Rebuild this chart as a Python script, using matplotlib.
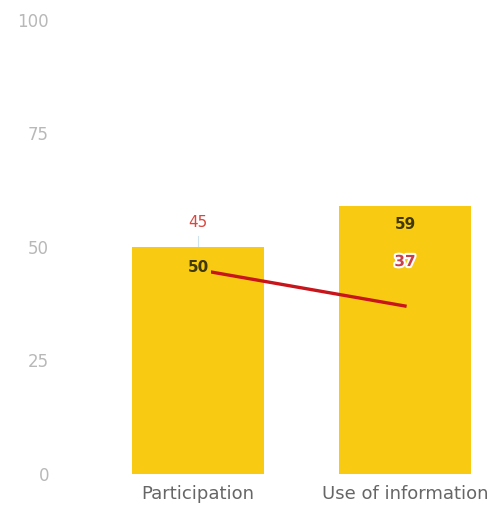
import matplotlib.pyplot as plt
import matplotlib.patheffects as pe

# data
categories = ["Participation", "Use of information"]
bar_values = [50, 59]
line_values = [45, 37]
yticks = [0, 25, 50, 75, 100]

bar_color = "#F8CB12"
line_color = "#C8141B"

fig = plt.figure(figsize=(4.95, 5.07), dpi=100)
ax = fig.add_axes([0.1212, 0.0651, 0.8788, 0.8955])

x = list(range(len(categories)))
ax.bar(x, bar_values, width=0.64, color=bar_color, zorder=1)
ax.plot(x, line_values, color=line_color, linewidth=2.4, zorder=2)

# bar labels (inside, near top)
for xi, v, off in zip(x, bar_values, [-15, -13.5]):
    ax.annotate(str(v), (xi, v), xytext=(0, off), textcoords="offset points",
                ha="center", va="center", fontsize=11, color="#3f3800",
                fontweight="bold", zorder=4,
                bbox=dict(boxstyle="square,pad=0.15", fc=bar_color, ec="none"))

# line labels (above points)
ax.annotate(str(line_values[0]), (x[0], line_values[0]), xytext=(0, 34),
            textcoords="offset points", ha="center", va="center",
            fontsize=11, color="#D9473F", zorder=4)
ax.annotate(str(line_values[1]), (x[1], line_values[1]), xytext=(0, 32),
            textcoords="offset points", ha="center", va="center",
            fontsize=11, color="#C9404A", fontweight="bold", zorder=4,
            path_effects=[pe.withStroke(linewidth=3, foreground="white")])
# faint leader line under the 45 label
ax.plot([x[0], x[0]], [bar_values[0], bar_values[0] + 2.5], color="#cfe3ee", linewidth=0.8, zorder=0)

ax.set_xlim(-0.667, 1.435)
ax.set_ylim(0, 100)
ax.set_yticks(yticks)
ax.set_xticks(x)
ax.set_xticklabels(categories, fontsize=13, color="#666666")
ax.tick_params(axis="y", length=0, pad=8, labelcolor="#b8b8b8", labelsize=12)
ax.tick_params(axis="x", length=0, pad=8)
for s in ax.spines.values():
    s.set_visible(False)

fig.savefig("out.png", dpi=100)
